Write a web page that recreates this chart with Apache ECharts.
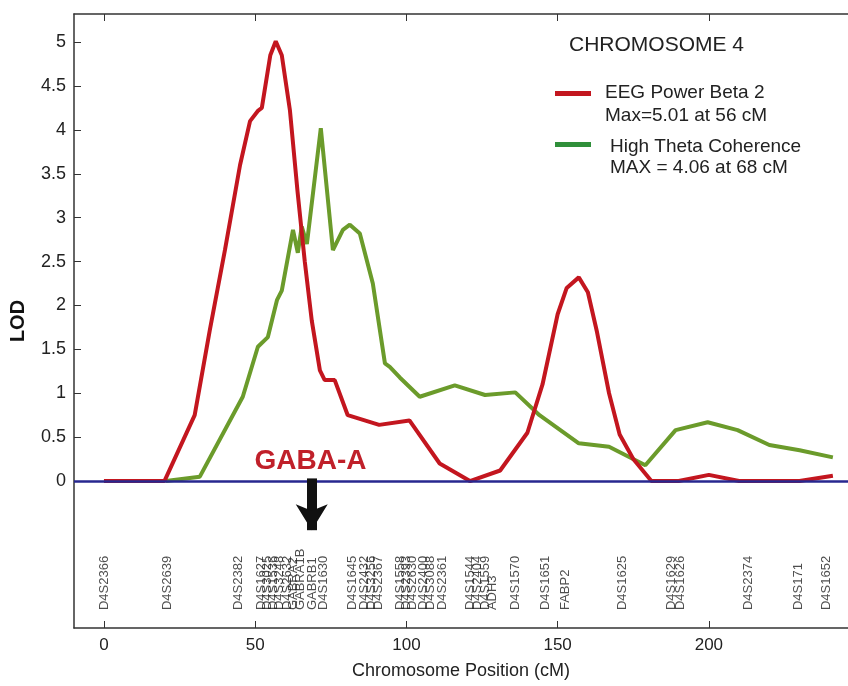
<!DOCTYPE html>
<html>
<head>
<meta charset="utf-8">
<script src="https://cdn.jsdelivr.net/npm/echarts@6/dist/echarts.min.js"></script>
<style>html,body{margin:0;background:#fff}#main{width:848px;height:686px}</style>
</head>
<body>
<div id="main"></div>
<script>
// EEG Power Beta 2 (red)
const betaPos = [0,20,30,35,40,45,48.3,51,52.2,55,56.8,58.8,61.5,64,66.4,68.7,71.4,73,76.3,80.6,91,101,111,121,131,140,145,150,153,157,160,163,167,170.5,175,181,190,200,210,230,241];
const betaLod = [0,0,0.75,1.72,2.63,3.6,4.1,4.22,4.25,4.85,5.01,4.85,4.22,3.3,2.5,1.83,1.26,1.15,1.15,0.75,0.64,0.69,0.2,0,0.12,0.55,1.1,1.9,2.2,2.32,2.15,1.7,1.0,0.53,0.25,0,0,0.07,0,0,0.06];
// High Theta Coherence (green)
const thetaPos = [20.5,31.7,45.9,50.9,54.2,57.2,58.8,62.5,64.1,65.4,67.1,71.7,75.7,79,81.3,84.6,88.9,92.9,94.5,97.8,104.4,116,126,136,144,157,167,179,189,199.6,209.5,220,230,241];
const thetaLod = [0,0.05,0.96,1.53,1.64,2.06,2.17,2.86,2.6,2.9,2.7,4.02,2.63,2.86,2.92,2.82,2.25,1.34,1.3,1.18,0.96,1.09,0.98,1.01,0.75,0.43,0.39,0.18,0.58,0.67,0.58,0.41,0.35,0.27];
// marker names along the chromosome
const markerNames = ['D4S2366','D4S2639','D4S2382','D4S1627','D4S3025','D4S1536','D4S3248','D4S2632','GABRA2','GABRA1B','GABRB1','D4S1630',
  'D4S1645','D4S2432','D4S3256','D4S2367','D4S1558','D4S2393','D4S2630','D4S2400','D4S3088','D4S2361',
  'D4S1544','D4S2404','D4S1559','ADH3','D4S1570','D4S1651','FABP2','D4S1625','D4S1629','D4S1626','D4S2374','D4S171','D4S1652'];
const markerPos = [0,21,44.5,52,54,56,58,60.5,62.5,64.8,69,72.5,
  82,86,88.5,90.6,98,100,102,105.5,108,112,
  121,123.5,126,128.5,136,146,152.5,171.5,187.5,190.5,213,229.5,239];
const xTicks = [0,50,100,150,200];
const yTicks = [0,0.5,1,1.5,2,2.5,3,3.5,4,4.5,5];
const gabaPos = 68.7;

const FONT = "'Liberation Sans', Arial, sans-serif";
const RED = '#c3161f', GREEN = '#6b9b2b', LEGEND_GREEN = '#2f8f3a';
const labelBase = -1.47;

const chart = echarts.init(document.getElementById('main'));
chart.setOption({
  animation: false,
  textStyle: { fontFamily: FONT },
  grid: { left: 74, top: 14, right: 0, bottom: 58 },
  xAxis: [{
    type: 'value', min: -9.9, max: 246, position: 'bottom',
    name: 'Chromosome Position (cM)', nameLocation: 'middle', nameGap: 34,
    nameTextStyle: { fontSize: 18, color: '#222', fontFamily: FONT },
    axisLine: { onZero: false, lineStyle: { color: '#333', width: 1.5 } },
    axisTick: { inside: true, length: 7, customValues: xTicks, lineStyle: { color: '#333' } },
    axisLabel: { customValues: xTicks, fontSize: 17, color: '#222', margin: 9 },
    splitLine: { show: false }
  }, {
    type: 'value', min: -9.9, max: 246, position: 'top',
    axisLine: { onZero: false, lineStyle: { color: '#333', width: 1.5 } },
    axisTick: { inside: true, length: 7, customValues: xTicks, lineStyle: { color: '#333' } },
    axisLabel: { show: false }, splitLine: { show: false }
  }],
  yAxis: {
    type: 'value', min: -1.674, max: 5.32,
    name: 'LOD', nameLocation: 'middle', nameGap: 46, nameRotate: 90,
    nameTextStyle: { fontSize: 20, fontWeight: 'bold', color: '#111', fontFamily: FONT },
    axisLine: { onZero: false, lineStyle: { color: '#333', width: 1.5 } },
    axisTick: { inside: true, length: 7, customValues: yTicks, lineStyle: { color: '#333' } },
    axisLabel: { customValues: yTicks, fontSize: 18, color: '#222', margin: 8 },
    splitLine: { show: false }
  },
  series: [{
    name: 'High Theta Coherence', type: 'line', symbol: 'none',
    data: thetaPos.map((p, i) => [p, thetaLod[i]]),
    lineStyle: { color: GREEN, width: 4 }, itemStyle: { color: GREEN },
    markLine: {
      silent: true, symbol: 'none', label: { show: false },
      lineStyle: { color: '#27278f', width: 2.5, type: 'solid' },
      data: [{ yAxis: 0 }]
    }
  }, {
    name: 'EEG Power Beta 2', type: 'line', symbol: 'none',
    data: betaPos.map((p, i) => [p, betaLod[i]]),
    lineStyle: { color: RED, width: 4 }, itemStyle: { color: RED },
    markLine: {
      silent: true, symbol: ['none', 'arrow'], symbolSize: [24, 26], label: { show: false },
      lineStyle: { color: '#111', width: 10, type: 'solid' },
      data: [[{ coord: [gabaPos, 0.03] }, { coord: [gabaPos, -0.56] }]]
    },
    markPoint: {
      silent: true, symbol: 'circle', symbolSize: 0,
      data: [{ coord: [gabaPos - 0.4, 0.22], value: 'GABA-A' }],
      label: { show: true, position: 'inside', formatter: 'GABA-A', fontSize: 28, fontWeight: 'bold', color: '#c0202a', fontFamily: FONT }
    }
  }, {
    name: 'markers', type: 'scatter', symbolSize: 0, silent: true,
    data: markerPos.map((p, i) => ({ value: [p, labelBase], name: markerNames[i] })),
    label: { show: true, formatter: '{b}', rotate: 90, position: [0, 0], align: 'left', verticalAlign: 'middle', fontSize: 13, color: '#222', fontFamily: FONT }
  }],
  graphic: [
    { type: 'text', left: 569, top: 35, style: { text: 'CHROMOSOME 4', fontSize: 21, fill: '#222', fontFamily: FONT } },
    { type: 'rect', left: 555, top: 91, shape: { width: 36, height: 5 }, style: { fill: RED } },
    { type: 'text', left: 605, top: 81, style: { text: 'EEG Power Beta 2\nMax=5.01 at 56 cM', fontSize: 19, lineHeight: 23, fill: '#222', fontFamily: FONT } },
    { type: 'rect', left: 555, top: 142, shape: { width: 36, height: 5 }, style: { fill: LEGEND_GREEN } },
    { type: 'text', left: 610, top: 136, style: { text: 'High Theta Coherence\nMAX = 4.06 at 68 cM', fontSize: 19, lineHeight: 21, fill: '#222', fontFamily: FONT } }
  ]
});
window.addEventListener('resize', () => chart.resize());
</script>
</body>
</html>
